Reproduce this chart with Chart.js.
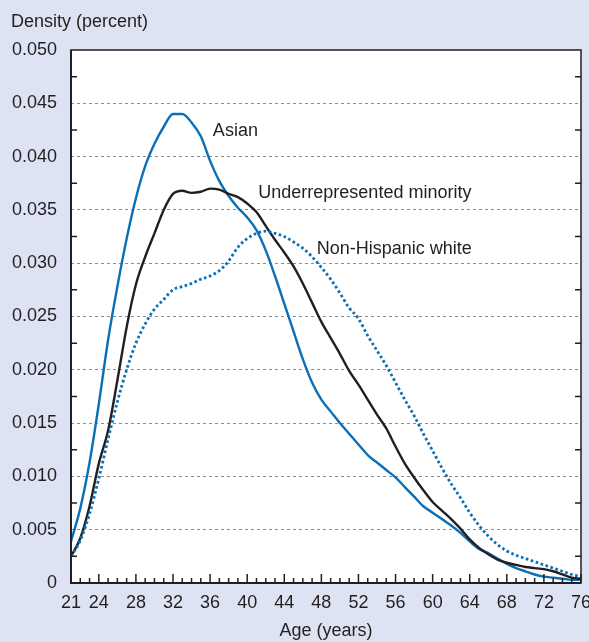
<!DOCTYPE html>
<html>
<head>
<meta charset="utf-8">
<script src="https://cdn.jsdelivr.net/npm/chart.js@4/dist/chart.umd.min.js"></script>
<style>
    html, body { margin: 0; padding: 0; background: #dee3f3; }
    #wrap { width: 589px; height: 642px; }
</style>
</head>
<body>
<div id="wrap"><canvas id="densityChart" width="589" height="642"></canvas></div>
<script>
// Age grid (years)
const ages = [21, 22, 23, 24, 25, 26, 27, 28, 29, 30, 31, 32, 33, 34, 35, 36, 37, 38, 39, 40,
    41, 42, 43, 44, 45, 46, 47, 48, 49, 50, 51, 52, 53, 54, 55, 56, 57, 58, 59, 60,
    61, 62, 63, 64, 65, 66, 67, 68, 69, 70, 71, 72, 73, 74, 75, 76];

// Density by age
const asian = [0.0039, 0.0070, 0.0113, 0.0168, 0.0228, 0.0278, 0.0323, 0.0361, 0.0391, 0.0412,
    0.0428, 0.0440, 0.0440, 0.0432, 0.0419, 0.0396, 0.0377, 0.0363, 0.0352, 0.0343,
    0.0331, 0.0312, 0.0288, 0.0262, 0.0236, 0.0210, 0.0188, 0.0172, 0.0161, 0.0150,
    0.0140, 0.0130, 0.0120, 0.0113, 0.0106, 0.0099, 0.0090, 0.0081, 0.0072, 0.0066,
    0.0060, 0.0054, 0.0047, 0.0039, 0.0032, 0.0028, 0.0023, 0.0018, 0.0014, 0.0011,
    0.0008, 0.0006, 0.0005, 0.0004, 0.0003, 0.0003];

const minority = [0.0025, 0.0042, 0.0072, 0.0112, 0.0143, 0.0190, 0.0240, 0.0280, 0.0306, 0.0328,
    0.0350, 0.0365, 0.0368, 0.0366, 0.0367, 0.0370, 0.0369, 0.0365, 0.0362, 0.0356,
    0.0348, 0.0335, 0.0322, 0.0310, 0.0297, 0.0281, 0.0263, 0.0245, 0.0230, 0.0215,
    0.0199, 0.0186, 0.0172, 0.0158, 0.0145, 0.0128, 0.0112, 0.0099, 0.0087, 0.0076,
    0.0068, 0.0060, 0.0051, 0.0041, 0.0033, 0.0027, 0.0022, 0.0019, 0.0017, 0.0015,
    0.0014, 0.0013, 0.0011, 0.0008, 0.0005, 0.0004];

const white = [0.0025, 0.0040, 0.0065, 0.0098, 0.0135, 0.0170, 0.0200, 0.0225, 0.0243, 0.0257,
    0.0266, 0.0275, 0.0278, 0.0281, 0.0285, 0.0288, 0.0293, 0.0302, 0.0315, 0.0323,
    0.0328, 0.0330, 0.0328, 0.0325, 0.0320, 0.0314, 0.0306, 0.0296, 0.0285, 0.0272,
    0.0258, 0.0248, 0.0232, 0.0218, 0.0204, 0.0188, 0.0172, 0.0157, 0.0140, 0.0124,
    0.0108, 0.0093, 0.0080, 0.0066, 0.0054, 0.0044, 0.0036, 0.0030, 0.0026, 0.0023,
    0.0020, 0.0017, 0.0014, 0.0011, 0.0008, 0.0006];

// Labelled ticks
const xTickLabels = [21, 24, 28, 32, 36, 40, 44, 48, 52, 56, 60, 64, 68, 72, 76];
const yTicks = [0, 0.005, 0.010, 0.015, 0.020, 0.025, 0.030, 0.035, 0.040, 0.045, 0.050];
const yMinorTicks = [0.0025, 0.0075, 0.0125, 0.0175, 0.0225, 0.0275, 0.0325, 0.0375, 0.0425, 0.0475];

// Inline series labels: [text, age, density]
const seriesLabels = [
    ['Asian', 36.3, 0.0424],
    ['Underrepresented minority', 41.2, 0.0366],
    ['Non-Hispanic white', 47.5, 0.0313]
];

const BLUE = '#0a6fb7';
const INK = '#231f20';
const FONT = '"Liberation Sans", Arial, Helvetica, sans-serif';

const toPoints = arr => arr.map((v, i) => ({ x: ages[i], y: v }));

const framePlugin = {
    id: 'frame',
    beforeDraw(chart) {
        const { ctx, chartArea: a } = chart;
        ctx.save();
        ctx.fillStyle = '#dee3f3';
        ctx.fillRect(0, 0, chart.width, chart.height);
        ctx.fillStyle = '#ffffff';
        ctx.fillRect(a.left, a.top, a.right - a.left, a.bottom - a.top);
        ctx.restore();
    },
    afterDraw(chart) {
        const { ctx, chartArea: a, scales: { x, y } } = chart;
        ctx.save();

        // Frame
        ctx.strokeStyle = INK;
        ctx.lineWidth = 1.5;
        ctx.strokeRect(a.left, a.top, a.right - a.left, a.bottom - a.top);
        ctx.lineWidth = 2;
        ctx.beginPath();
        ctx.moveTo(a.left, a.top);
        ctx.lineTo(a.left, a.bottom);
        ctx.lineTo(a.right, a.bottom);
        ctx.stroke();

        // Inside ticks on x axis (every year, long at labelled ages)
        ctx.lineWidth = 1.5;
        ages.forEach(age => {
            const px = x.getPixelForValue(age);
            const len = xTickLabels.includes(age) ? 9 : 5;
            ctx.beginPath();
            ctx.moveTo(px, a.bottom);
            ctx.lineTo(px, a.bottom - len);
            ctx.stroke();
        });

        // Minor ticks on both y sides
        yMinorTicks.forEach(v => {
            const py = y.getPixelForValue(v);
            ctx.beginPath();
            ctx.moveTo(a.left, py);
            ctx.lineTo(a.left + 6, py);
            ctx.moveTo(a.right, py);
            ctx.lineTo(a.right - 6, py);
            ctx.stroke();
        });

        // Series labels
        ctx.fillStyle = INK;
        ctx.font = '18px ' + FONT;
        ctx.textBaseline = 'middle';
        ctx.textAlign = 'left';
        seriesLabels.forEach(([text, age, val]) => {
            ctx.fillText(text, x.getPixelForValue(age), y.getPixelForValue(val));
        });

        // Y axis title, horizontal above the plot
        ctx.textBaseline = 'alphabetic';
        ctx.fillText('Density (percent)', 11, 27);

        ctx.restore();
    }
};

document.addEventListener('DOMContentLoaded', function () {
    const ctx = document.getElementById('densityChart').getContext('2d');

    new Chart(ctx, {
        type: 'line',
        data: {
            datasets: [
                {
                    label: 'Non-Hispanic white',
                    data: toPoints(white),
                    borderColor: BLUE,
                    borderWidth: 2.8,
                    borderDash: [2.6, 2.6],
                    pointRadius: 0,
                    cubicInterpolationMode: 'monotone'
                },
                {
                    label: 'Underrepresented minority',
                    data: toPoints(minority),
                    borderColor: INK,
                    borderWidth: 2.4,
                    pointRadius: 0,
                    cubicInterpolationMode: 'monotone'
                },
                {
                    label: 'Asian',
                    data: toPoints(asian),
                    borderColor: BLUE,
                    borderWidth: 2.4,
                    pointRadius: 0,
                    cubicInterpolationMode: 'monotone'
                }
            ]
        },
        options: {
            responsive: false,
            animation: false,
            devicePixelRatio: 1,
            layout: { padding: { top: 50, right: 8, left: 0, bottom: 0 } },
            plugins: {
                legend: { display: false },
                tooltip: { enabled: false }
            },
            scales: {
                x: {
                    type: 'linear',
                    min: 21,
                    max: 76,
                    afterBuildTicks: scale => {
                        scale.ticks = xTickLabels.map(v => ({ value: v }));
                    },
                    afterFit: scale => {
                        scale.height = 59;
                        scale.paddingLeft = 0;
                        scale.paddingRight = 0;
                    },
                    grid: { display: false, drawTicks: false },
                    border: { display: false },
                    ticks: {
                        autoSkip: false,
                        maxRotation: 0,
                        minRotation: 0,
                        padding: 9,
                        color: INK,
                        font: { family: FONT, size: 18 },
                        callback: v => String(v)
                    },
                    title: {
                        display: true,
                        text: 'Age (years)',
                        color: INK,
                        font: { family: FONT, size: 18 },
                        padding: { top: 0, bottom: 0 }
                    }
                },
                y: {
                    min: 0,
                    max: 0.05,
                    afterBuildTicks: scale => {
                        scale.ticks = yTicks.map(v => ({ value: v }));
                    },
                    afterFit: scale => {
                        scale.width = 71;
                        scale.paddingTop = 0;
                        scale.paddingBottom = 0;
                    },
                    grid: {
                        drawTicks: false,
                        lineWidth: 1,
                        color: c => (c.tick && (c.tick.value === 0 || c.tick.value === 0.05)) ? 'rgba(0,0,0,0)' : '#8c8c8c'
                    },
                    border: { display: false, dash: [3, 3] },
                    ticks: {
                        padding: 14,
                        color: INK,
                        font: { family: FONT, size: 18 },
                        callback: v => v === 0 ? '0' : v.toFixed(3)
                    }
                }
            }
        },
        plugins: [framePlugin]
    });
});
</script>
</body>
</html>
